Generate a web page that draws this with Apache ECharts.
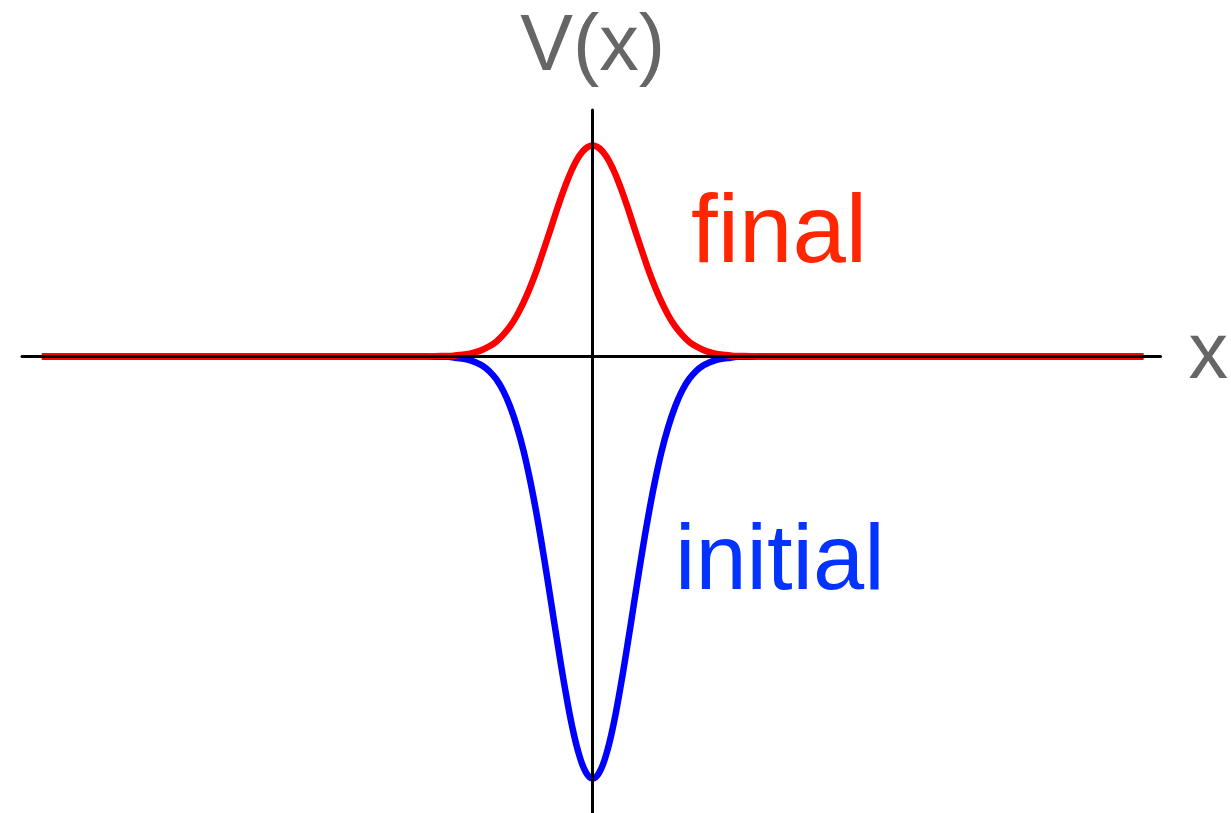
<!DOCTYPE html>
<html>
<head>
<meta charset="utf-8">
<title>V(x)</title>
<script src="https://cdn.jsdelivr.net/npm/echarts@6/dist/echarts.min.js"></script>
<style>
  html, body { margin: 0; padding: 0; background: #fff; }
  #main { width: 1231px; height: 813px; }
</style>
</head>
<body>
<div id="main"></div>
<script>
// x positions of the samples (curve runs flat from -20 to 20)
var xs = [-20, -6, -5.5, -5.25, -5, -4.75, -4.5, -4.25, -4, -3.75, -3.5, -3.25, -3, -2.75, -2.5, -2.25,
  -2, -1.75, -1.5, -1.25, -1, -0.75, -0.5, -0.25, 0,
  0.25, 0.5, 0.75, 1, 1.25, 1.5, 1.75, 2, 2.25, 2.5, 2.75, 3, 3.25, 3.5, 3.75,
  4, 4.25, 4.5, 4.75, 5, 5.25, 5.5, 6, 20];
// initial potential: deep well
var initialV = [0, 0, -0.001, -0.001, -0.003, -0.005, -0.008, -0.014, -0.022, -0.035, -0.054, -0.081, -0.118, -0.166, -0.226, -0.3,
  -0.386, -0.483, -0.586, -0.69, -0.788, -0.875, -0.942, -0.985, -1,
  -0.985, -0.942, -0.875, -0.788, -0.69, -0.586, -0.483, -0.386, -0.3, -0.226, -0.166, -0.118, -0.081, -0.054, -0.035,
  -0.022, -0.014, -0.008, -0.005, -0.003, -0.001, -0.001, 0, 0];
// final potential: bump, about half the height
var finalV = [0, 0, 0.001, 0.001, 0.002, 0.004, 0.006, 0.01, 0.016, 0.024, 0.035, 0.051, 0.071, 0.097, 0.129, 0.167,
  0.21, 0.258, 0.307, 0.357, 0.403, 0.443, 0.474, 0.493, 0.5,
  0.493, 0.474, 0.443, 0.403, 0.357, 0.307, 0.258, 0.21, 0.167, 0.129, 0.097, 0.071, 0.051, 0.035, 0.024,
  0.016, 0.01, 0.006, 0.004, 0.002, 0.001, 0.001, 0, 0];

var xName = 'x';
var yName = 'V(x)';

function pairs(vals) {
  var out = [];
  for (var i = 0; i < xs.length; i++) {
    out.push([xs[i], vals[i]]);
  }
  return out;
}

var chart = echarts.init(document.getElementById('main'));
var font = '"Liberation Sans", Arial, Helvetica, sans-serif';

var option = {
  animation: false,
  grid: {
    left: 22,
    right: 68,
    top: 110,
    bottom: 0,
    containLabel: false
  },
  xAxis: {
    type: 'value',
    min: -20.72,
    max: 20.62,
    z: 5,
    name: xName,
    nameLocation: 'end',
    nameGap: 28,
    nameTextStyle: {
      color: '#666',
      fontSize: 79,
      fontFamily: font,
      padding: [0, 0, 14, 0]
    },
    axisLine: { onZero: true, lineStyle: { color: '#000', width: 3 } },
    axisTick: { show: false },
    axisLabel: { show: false },
    splitLine: { show: false }
  },
  yAxis: {
    type: 'value',
    min: -1.082,
    max: 0.584,
    z: 5,
    name: yName,
    nameLocation: 'end',
    nameGap: 22,
    nameTextStyle: {
      color: '#666',
      fontSize: 79,
      fontFamily: font,
      align: 'center'
    },
    axisLine: { onZero: true, lineStyle: { color: '#000', width: 3 } },
    axisTick: { show: false },
    axisLabel: { show: false },
    splitLine: { show: false }
  },
  series: [
    {
      name: 'initial',
      type: 'line',
      smooth: 0.4,
      showSymbol: false,
      lineStyle: { color: '#0000ff', width: 6.5 },
      data: pairs(initialV)
    },
    {
      name: 'final',
      type: 'line',
      smooth: 0.4,
      showSymbol: false,
      lineStyle: { color: '#ff0000', width: 6.5 },
      data: pairs(finalV)
    }
  ],
  graphic: [
    {
      type: 'text',
      x: 691,
      y: 236,
      style: {
        text: 'final',
        fill: '#ff2600',
        font: '96px ' + font,
        verticalAlign: 'middle'
      }
    },
    {
      type: 'text',
      x: 675,
      y: 564,
      style: {
        text: 'initial',
        fill: '#0433ff',
        font: '92px ' + font,
        verticalAlign: 'middle'
      }
    }
  ]
};

chart.setOption(option);
</script>
</body>
</html>
